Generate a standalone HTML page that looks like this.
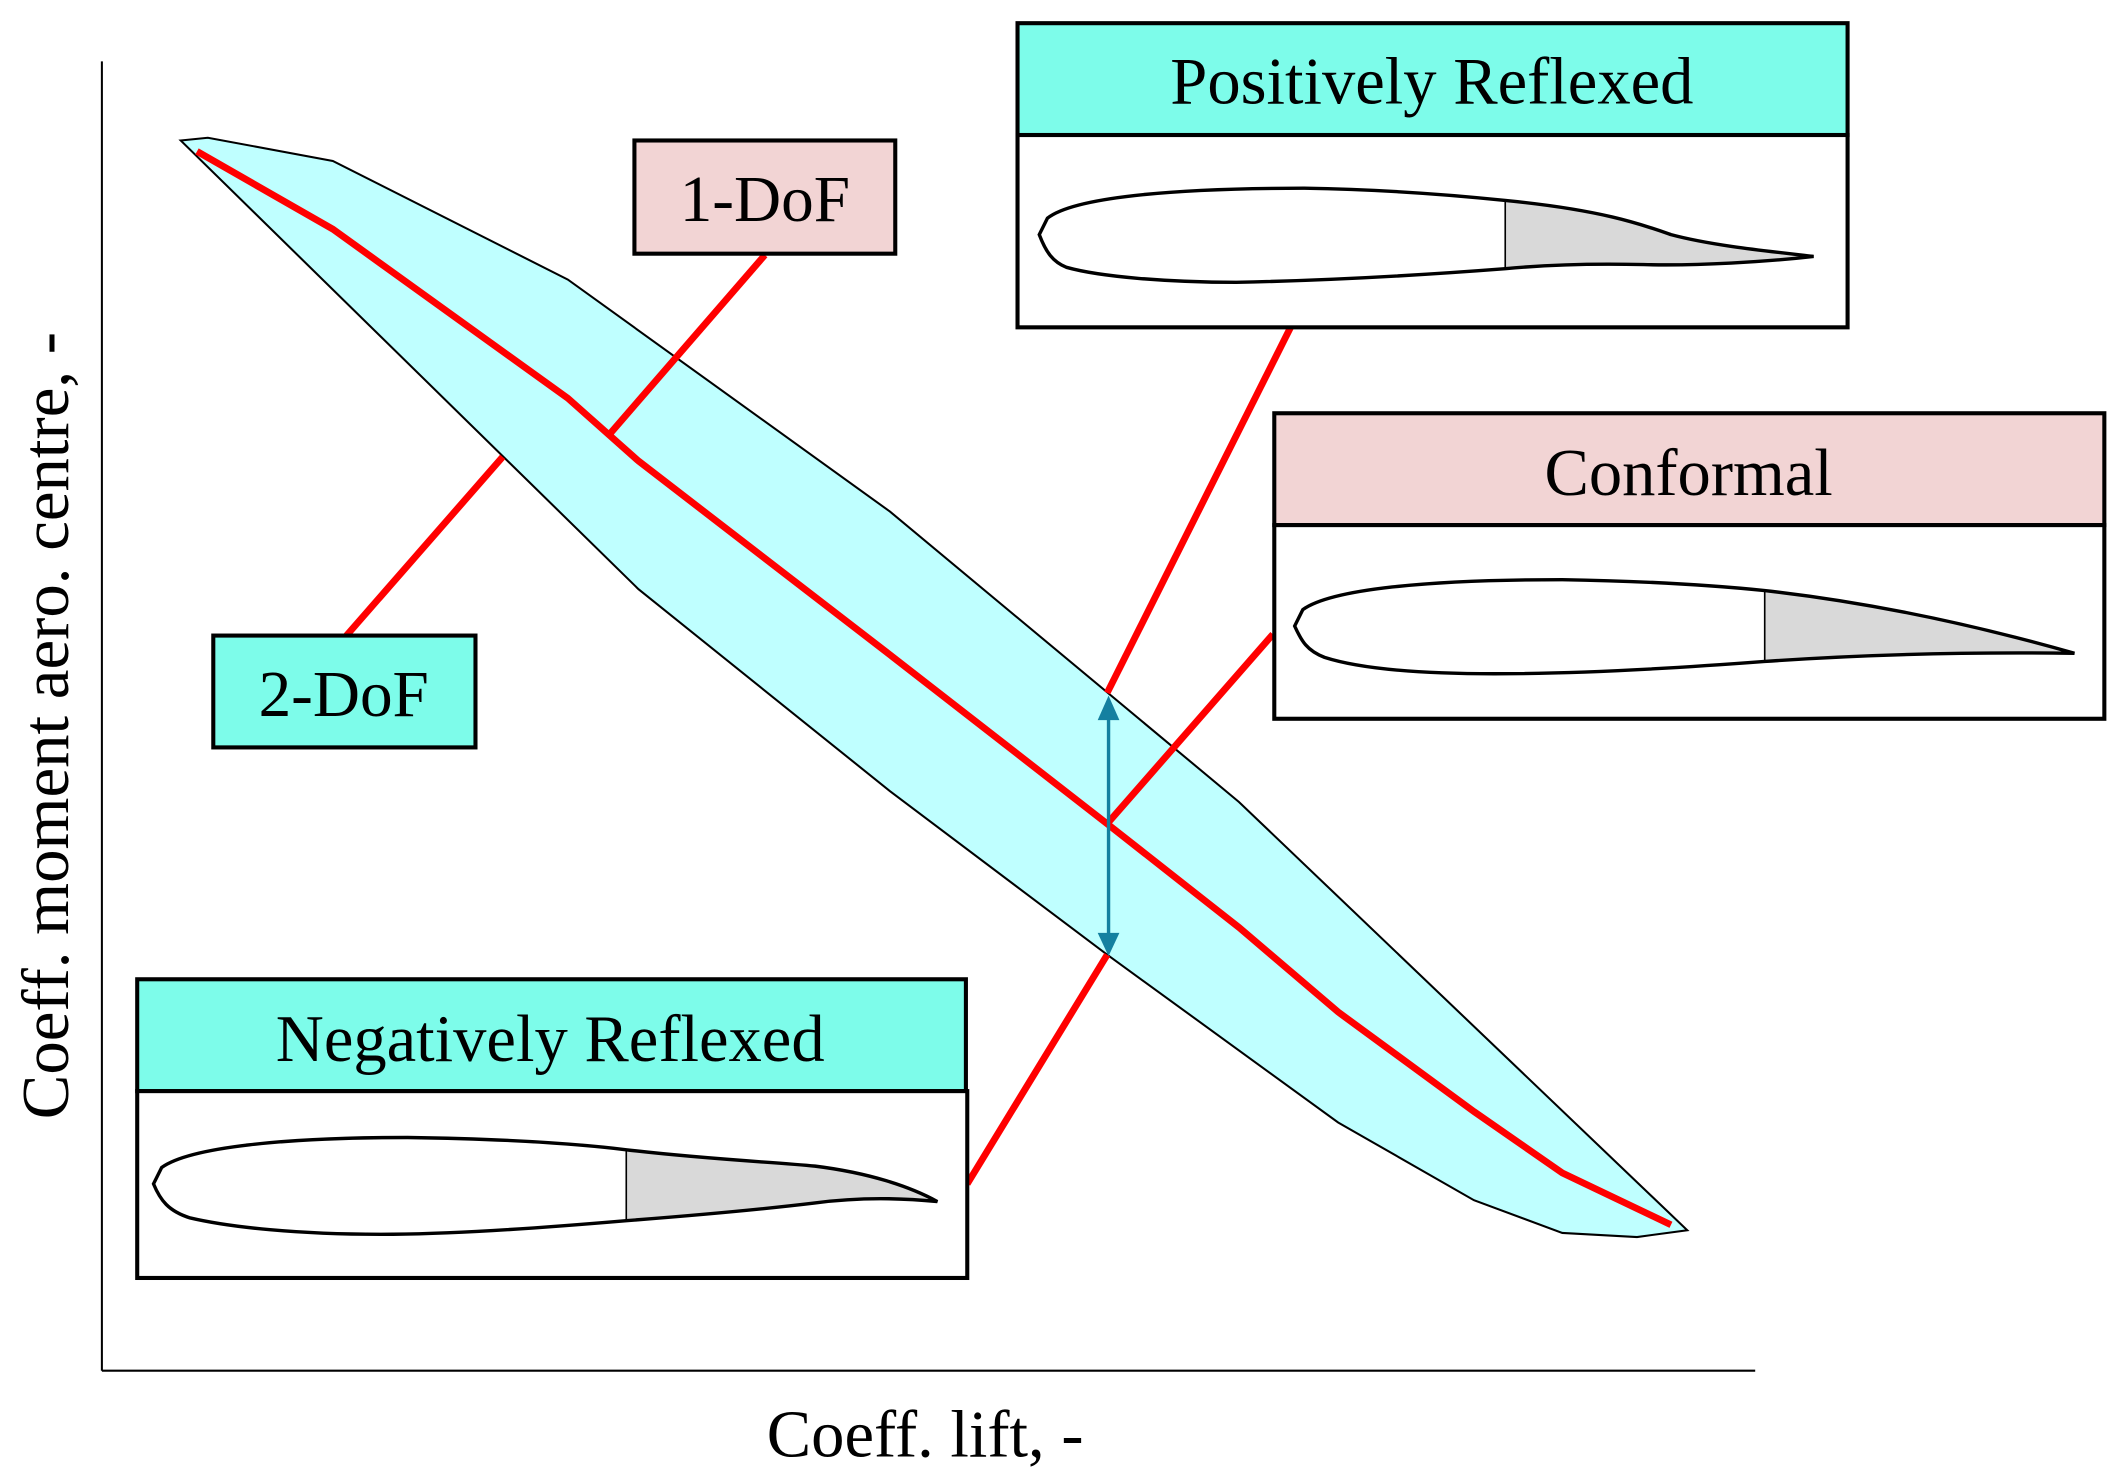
<!DOCTYPE html>
<html><head><style>html,body{margin:0;padding:0;background:#fff}svg{display:block}</style></head>
<body>
<svg width="2122" height="1473" viewBox="0 0 1562 1080" preserveAspectRatio="none" xmlns="http://www.w3.org/2000/svg" font-family="Liberation Serif, serif">
<rect width="1562" height="1080" fill="#fff"/>
<!-- axes -->
<line x1="75" y1="45" x2="75" y2="1005" stroke="#000" stroke-width="1.5"/>
<line x1="75" y1="1005" x2="1292" y2="1005" stroke="#000" stroke-width="1.5"/>
<text x="681" y="1068" font-size="49" text-anchor="middle">Coeff. lift, -</text>
<text transform="translate(50,532) rotate(-90)" font-size="49" text-anchor="middle">Coeff. moment aero. centre, -</text>
<!-- band -->
<path d="M133,103 L153,101 L245,118 L418,205 L655,375 L912,588 L1242,902 L1205,907 L1150,904 L1085,880 L985,823 L815,700 L655,580 L470,432 Z" fill="#bfffff" stroke="#000" stroke-width="1.5"/>
<polyline points="145,111 245,168 418,292 470,338 655,480 815,604 912,680 985,742 1085,815 1150,860 1230,898" fill="none" stroke="#f00" stroke-width="5"/>
<!-- leaders -->
<g stroke="#f00" stroke-width="5">
<line x1="563" y1="187" x2="449" y2="318"/>
<line x1="255" y1="466" x2="370" y2="335"/>
<line x1="950" y1="240" x2="815" y2="508"/>
<line x1="937" y1="465" x2="815" y2="604"/>
<line x1="712" y1="868" x2="815" y2="700"/>
</g>
<!-- blue double arrow -->
<line x1="816" y1="525" x2="816" y2="686" stroke="#1480a0" stroke-width="2.5"/>
<polygon points="816,510 808,528 824,528" fill="#1480a0"/>
<polygon points="816,701 808,684 824,684" fill="#1480a0"/>
<!-- small boxes -->
<rect x="467" y="103" width="192" height="83" fill="#f2d4d4" stroke="#000" stroke-width="3"/>
<text x="563" y="162" font-size="48" text-anchor="middle">1-DoF</text>
<rect x="157" y="466" width="193" height="82" fill="#7dfcea" stroke="#000" stroke-width="3"/>
<text x="253" y="525" font-size="48" text-anchor="middle">2-DoF</text>
<!-- Positively Reflexed -->
<rect x="749" y="17" width="611" height="82" fill="#7dfcea" stroke="#000" stroke-width="3"/>
<text x="1054" y="76" font-size="49" text-anchor="middle">Positively Reflexed</text>
<rect x="749" y="99" width="611" height="141" fill="#fff" stroke="#000" stroke-width="3"/>
<path d="M1108,147 C1180,154 1210,165 1230,172 C1260,180 1300,184 1335,188 C1300,192 1250,195 1210,194 C1170,193 1140,194 1108,197 Z" fill="#d9d9d9"/>
<path d="M765,172 L771,160 C790,145 860,138 960,138 C1020,139 1070,143 1108,147 C1180,154 1210,165 1230,172 C1260,180 1300,184 1335,188 C1300,192 1250,195 1210,194 C1170,193 1140,194 1108,197 C1030,203 960,206 910,207 C860,207 810,203 785,196 C775,192 770,185 765,172 Z" fill="none" stroke="#000" stroke-width="2.5"/>
<line x1="1108" y1="147" x2="1108" y2="197" stroke="#000" stroke-width="1.2"/>
<!-- Conformal -->
<rect x="938" y="303" width="611" height="82" fill="#f2d4d4" stroke="#000" stroke-width="3"/>
<text x="1243" y="363" font-size="49" text-anchor="middle">Conformal</text>
<rect x="938" y="385" width="611" height="142" fill="#fff" stroke="#000" stroke-width="3"/>
<path d="M1299,433 C1380,442 1460,460 1527,479 C1450,478 1370,480 1299,485 Z" fill="#d9d9d9"/>
<path d="M953,459 L959,447 C980,432 1050,425 1150,425 C1210,426 1260,429 1299,433 C1380,442 1460,460 1527,479 C1450,478 1370,480 1299,485 C1220,491 1150,494 1100,494 C1040,494 1000,490 975,482 C962,477 958,470 953,459 Z" fill="none" stroke="#000" stroke-width="2.5"/>
<line x1="1299" y1="433" x2="1299" y2="485" stroke="#000" stroke-width="1.2"/>
<!-- Negatively Reflexed -->
<rect x="101" y="718" width="610" height="82" fill="#7dfcea" stroke="#000" stroke-width="3"/>
<text x="405" y="778" font-size="49" text-anchor="middle">Negatively Reflexed</text>
<rect x="101" y="800" width="611" height="137" fill="#fff" stroke="#000" stroke-width="3"/>
<path d="M461,843 C520,850 570,852 600,855 C640,860 670,870 690,881 C660,878 630,878 600,882 C550,888 500,892 461,895 Z" fill="#d9d9d9"/>
<path d="M113,868 L119,856 C140,841 210,834 300,834 C370,835 420,838 461,843 C520,850 570,852 600,855 C640,860 670,870 690,881 C660,878 630,878 600,882 C550,888 500,892 461,895 C390,901 330,905 280,905 C220,905 170,900 140,893 C124,888 118,880 113,868 Z" fill="none" stroke="#000" stroke-width="2.5"/>
<line x1="461" y1="843" x2="461" y2="895" stroke="#000" stroke-width="1.2"/>
</svg>
</body></html>
